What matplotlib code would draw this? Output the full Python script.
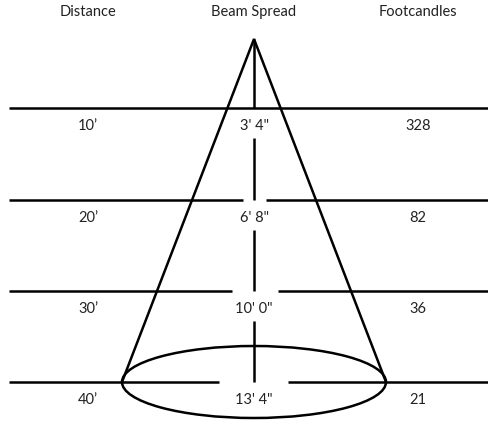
import numpy as np
import matplotlib
matplotlib.use('Agg')
import matplotlib.pyplot as plt
from matplotlib.patches import Ellipse

headers = ['Distance', 'Beam Spread', 'Footcandles']
distances = ["10\u2019", "20\u2019", "30\u2019", "40\u2019"]
spreads = ["3' 4\"", "6' 8\"", "10' 0\"", "13' 4\""]
footcandles = ['328', '82', '36', '21']

# layout in pixel units (y down)
W, H = 489, 421
col_x = [88, 254, 418]
row_y = [108, 200, 291, 382]
apex = (254, 39)
gaps = [(254, 254), (243, 266), (232, 278), (219, 288)]
ell_w, ell_h = 264, 72
lw = 1.8

fig = plt.figure(figsize=(W / 100, H / 100), dpi=100)
ax = fig.add_axes([0, 0, 1, 1])
ax.set_xlim(0, W)
ax.set_ylim(H, 0)
ax.axis('off')

font = dict(family='Lato', fontsize=10.5, color='#222222', ha='center', va='center')

for x, t in zip(col_x, headers):
  ax.text(x, 12, t, **font)

for i, y in enumerate(row_y):
  g0, g1 = gaps[i]
  if g0 == g1:
    ax.plot([9, 488], [y, y], color='black', lw=lw, solid_capstyle='butt')
  else:
    ax.plot([9, g0], [y, y], color='black', lw=lw, solid_capstyle='butt')
    ax.plot([g1, 488], [y, y], color='black', lw=lw, solid_capstyle='butt')
  ax.text(col_x[0], y + 18, distances[i], **font)
  ax.text(col_x[1], y + 18, spreads[i], **font)
  ax.text(col_x[2], y + 18, footcandles[i], **font)

# center vertical segments between labels
ax.plot([apex[0], apex[0]], [apex[1], row_y[0]], color='black', lw=lw, solid_capstyle='butt')
for i in range(1, 4):
  ax.plot([apex[0], apex[0]], [row_y[i - 1] + 30, row_y[i]], color='black', lw=lw, solid_capstyle='butt')

# cone
half = ell_w / 2
ax.plot([apex[0] - half, apex[0], apex[0] + half], [row_y[3], apex[1], row_y[3]],
        color='black', lw=lw, solid_joinstyle='miter')
ax.add_patch(Ellipse((apex[0], row_y[3]), ell_w, ell_h, fill=False, edgecolor='black', lw=lw))

fig.savefig('out.png', dpi=100)
